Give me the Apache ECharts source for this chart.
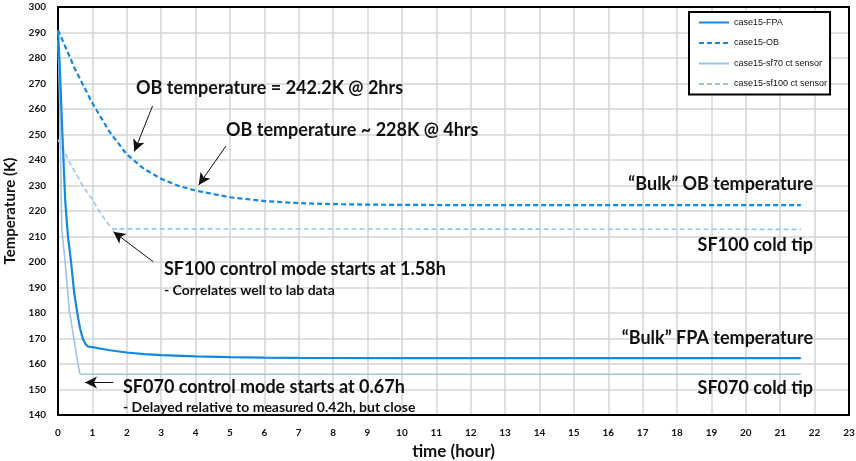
<!DOCTYPE html>
<html><head><meta charset="utf-8">
<script src="https://cdn.jsdelivr.net/npm/echarts@6/dist/echarts.min.js"></script>
<style>html,body{margin:0;padding:0;background:#fff}#c{width:856px;height:461px}</style>
</head><body><div id="c"></div>
<script>
// Data (time in hours, temperature in K)
const seriesNames = ['case15-FPA', 'case15-OB', 'case15-sf70 ct sensor', 'case15-sf100 ct sensor'];
const fpaData = [[0,291],[0.05,277],[0.125,251],[0.21,224],[0.29,210],[0.38,200],[0.47,188],[0.56,180],[0.64,174],[0.72,170],[0.8,167.8],[0.88,166.8],[1,166.6],[1.5,165.4],[2,164.5],[2.5,163.9],[3,163.5],[4,163.0],[5,162.7],[6,162.5],[7,162.4],[10,162.3],[21.6,162.3]];
const obData = [[0,291],[0.5,275.5],[1,262.3],[1.5,251],[2,242.2],[2.5,236.5],[3,232.6],[3.5,229.9],[4,228],[5,225.4],[6,223.9],[7,223.1],[8,222.7],[9,222.5],[10,222.4],[12,222.3],[21.6,222.3]];
const sf70Data = [[0,287],[0.05,262],[0.11,213],[0.2,201],[0.33,181],[0.47,169.4],[0.56,161.6],[0.64,156],[21.6,156]];
const sf100Data = [[0,248],[0.1,245.5],[0.35,238.7],[0.74,229.5],[1,224.5],[1.22,219.5],[1.4,216],[1.58,213],[21.6,212.8]];
const xTicks = {min: 0, max: 23, interval: 1};
const yTicks = {min: 140, max: 300, interval: 10};
// Annotation arrows [from, to] in data coordinates
const arrows = [
  [[2.75,261.2],[2.22,243.3]],
  [[4.885,245.5],[4.09,230.2]],
  [[2.77,200.1],[1.61,211.9]],
  [[1.61,152.7],[0.785,152.7]]
];

const strong = '#1389e0', light = '#9cc5ea';
const F = 'Lato, "Open Sans", sans-serif';
const chart = echarts.init(document.getElementById('c'), null, {renderer: 'canvas'});

function txt(x, y, s, size, align) {
  return {type: 'text', x: x, y: y, z: 100,
    style: {text: s, fill: '#111', font: 'bold ' + size + 'px ' + F, textAlign: align || 'left', textVerticalAlign: 'middle'}};
}
const frameAxis = {show: true, axisLine: {show: true, onZero: false, lineStyle: {color: '#000', width: 2}},
  axisTick: {show: false}, axisLabel: {show: false}, splitLine: {show: false}};

chart.setOption({
  animation: false,
  backgroundColor: '#fff',
  grid: {left: 58, right: 7, top: 7, bottom: 46, containLabel: false, outerBoundsMode: 'none'},
  legend: {
    orient: 'vertical', left: 689, top: 12,
    data: seriesNames,
    itemWidth: 30, itemHeight: 10, itemGap: 11.5,
    padding: [6, 3, 6, 9],
    borderColor: '#000', borderWidth: 2, backgroundColor: '#fff',
    itemStyle: {opacity: 0},
    textStyle: {fontFamily: '"Liberation Sans Narrow", "Arial Narrow", sans-serif', fontSize: 9, color: '#111'},
    z: 50
  },
  xAxis: [{
    type: 'value', min: xTicks.min, max: xTicks.max, interval: xTicks.interval,
    name: 'time (hour)', nameLocation: 'middle', nameGap: 23,
    nameTextStyle: {fontFamily: F, fontSize: 17, fontWeight: 'bold', color: '#111'},
    axisLine: {show: true, onZero: false, lineStyle: {color: '#000', width: 2}},
    axisTick: {show: false},
    axisLabel: {fontFamily: F, fontSize: 10, fontWeight: 'bold', color: '#111', margin: 13},
    splitLine: {show: true, lineStyle: {color: '#d4d4d4', width: 1.5}}
  }, Object.assign({type: 'value', position: 'top', min: xTicks.min, max: xTicks.max, interval: xTicks.interval}, frameAxis)],
  yAxis: [{
    type: 'value', min: yTicks.min, max: yTicks.max, interval: yTicks.interval,
    name: 'Temperature (K)', nameLocation: 'middle', nameGap: 37, nameRotate: 90,
    nameTextStyle: {fontFamily: F, fontSize: 15, fontWeight: 'bold', color: '#111'},
    axisLine: {show: true, onZero: false, lineStyle: {color: '#000', width: 2}},
    axisTick: {show: false},
    axisLabel: {fontFamily: F, fontSize: 10, fontWeight: 'bold', color: '#111', margin: 12},
    splitLine: {show: true, lineStyle: {color: '#d4d4d4', width: 1.5}}
  }, Object.assign({type: 'value', position: 'right', min: yTicks.min, max: yTicks.max, interval: yTicks.interval}, frameAxis)],
  series: [
    {name: seriesNames[0], type: 'line', data: fpaData, showSymbol: false, symbol: 'none', smooth: false,
     lineStyle: {color: strong, width: 2.2}, itemStyle: {color: strong}, z: 4,
     markLine: {silent: true, symbol: ['none', 'arrow'], symbolSize: [9, 12], animation: false,
       label: {show: false}, lineStyle: {color: '#111', width: 1, type: 'solid'},
       data: arrows.map(a => [{coord: a[0]}, {coord: a[1]}])}},
    {name: seriesNames[1], type: 'line', data: obData, showSymbol: false, symbol: 'none',
     lineStyle: {color: strong, width: 2.2, type: [5, 3]}, itemStyle: {color: strong}, z: 4},
    {name: seriesNames[2], type: 'line', data: sf70Data, showSymbol: false, symbol: 'none',
     lineStyle: {color: light, width: 1.6}, itemStyle: {color: light}, z: 3},
    {name: seriesNames[3], type: 'line', data: sf100Data, showSymbol: false, symbol: 'none',
     lineStyle: {color: light, width: 1.6, type: [5, 3]}, itemStyle: {color: light}, z: 3}
  ],
  graphic: [
    txt(136, 88, 'OB temperature = 242.2K @ 2hrs', 18),
    txt(226, 130, 'OB temperature ~ 228K @ 4hrs', 18),
    txt(164, 269, 'SF100 control mode starts at 1.58h', 18),
    txt(164, 290, '- Correlates well to lab data', 14),
    txt(123, 387, 'SF070 control mode starts at 0.67h', 18),
    txt(123, 407, '- Delayed relative to measured 0.42h, but close', 14),
    txt(813, 184, '\u201cBulk\u201d OB temperature', 18, 'right'),
    txt(813, 245, 'SF100 cold tip', 18, 'right'),
    txt(813, 338, '\u201cBulk\u201d FPA temperature', 18, 'right'),
    txt(813, 388, 'SF070 cold tip', 18, 'right')
  ]
});
</script></body></html>
